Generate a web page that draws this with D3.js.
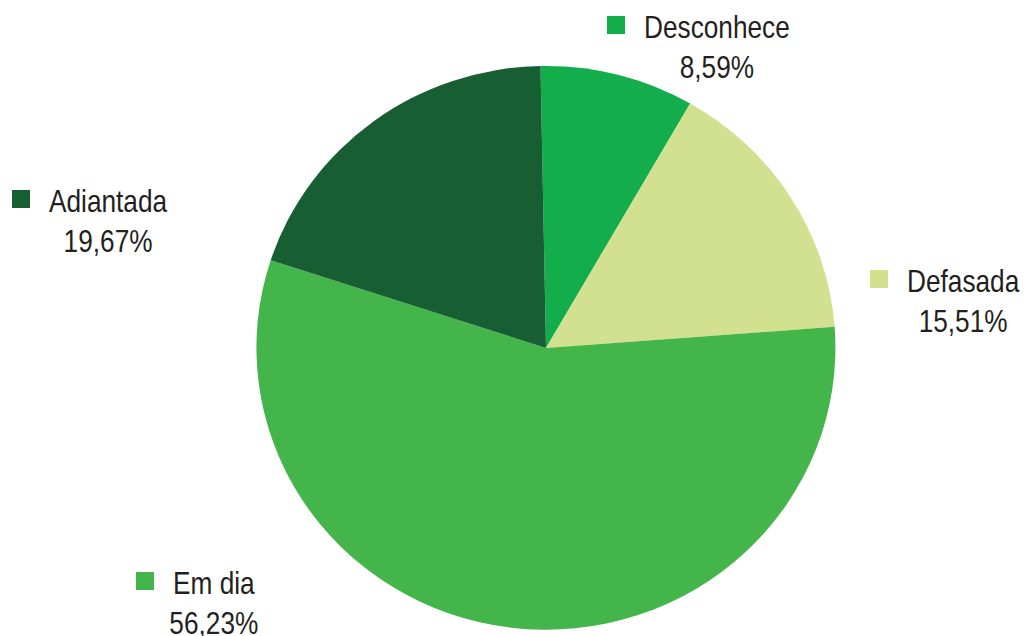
<!DOCTYPE html>
<html><head><meta charset="utf-8">
<script src="https://cdn.jsdelivr.net/npm/d3@7"></script>
<style>
html,body{margin:0;padding:0;background:#fff;}
svg{display:block;}
text{font-family:"Liberation Sans",Arial,sans-serif;fill:#231f20;}
</style></head>
<body>
<svg id="c" width="1026" height="636"></svg>
<script>
// Data
const categories = ["Desconhece", "Defasada", "Em dia", "Adiantada"];
const values = [8.59, 15.51, 56.23, 19.67];
const colors = ["#13ae4b", "#d1e190", "#43b54a", "#185e33"];
// Label layout (x of name start, name baseline y)
const labelPos = [[644, 38], [907, 292], [173, 594], [49, 212]];

const svg = d3.select("#c");
const W = 1026, H = 636;
const cx = 546, cy = 348, rx = 289.5, ry = 282;
const start = -0.019;

const pie = d3.pie().sort(null).value(d => d).startAngle(start).endAngle(start + 2 * Math.PI);
const arc = d3.arc().innerRadius(0).outerRadius(1);
const arcs = pie(values);

const g = svg.append("g").attr("transform", `translate(${cx},${cy}) scale(${rx},${ry})`);
g.selectAll("path").data(arcs).join("path")
  .attr("d", arc)
  .attr("fill", (d, i) => colors[i]);

const fmt = v => v.toFixed(2).replace(".", ",") + "%";
const sx = 0.82, fs = 32;

categories.forEach((c, i) => {
  const [x, y] = labelPos[i];
  // legend square
  svg.append("rect").attr("x", x - 37).attr("y", y - 22).attr("width", 18).attr("height", 18)
    .attr("fill", colors[i]);
  const ng = svg.append("g").attr("transform", `translate(${x},${y}) scale(${sx},1)`);
  const t = ng.append("text").attr("x", 0).attr("y", 0).attr("font-size", fs).text(c);
  const w = t.node().getComputedTextLength() * sx;
  const pg = svg.append("g").attr("transform", `translate(${x + w / 2},${y + 40}) scale(${sx},1)`);
  pg.append("text").attr("text-anchor", "middle").attr("font-size", fs).text(fmt(values[i]));
});
</script>
</body></html>
